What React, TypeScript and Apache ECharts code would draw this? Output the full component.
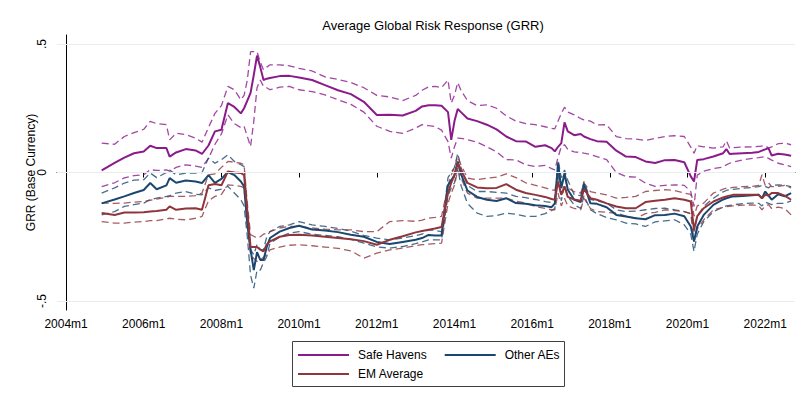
import React, { useEffect, useRef } from "react";
import * as echarts from "echarts";

// month index: 0 = 2004m1
const months = [
  11, 15, 18, 21, 24, 26, 28, 31, 32, 34,
  37, 40, 42, 44, 46, 48, 50, 52, 54, 55,
  56, 57, 58, 59, 60, 61, 62, 63, 66, 69,
  72, 76, 80, 84, 88, 92, 96, 100, 104, 108,
  110, 112, 114, 116, 118, 119, 120, 121, 122, 124,
  127, 130, 133, 136, 139, 142, 145, 148, 150, 151,
  152, 153, 154, 155, 157, 159, 160, 162, 164, 167,
  170, 173, 176, 179, 182, 185, 188, 191, 193, 194,
  195, 197, 200, 203, 204, 205, 206, 209, 212, 214,
  215, 216, 217, 218, 220, 222, 224,
];

const safeHavens = [
  0.008, 0.037, 0.058, 0.075, 0.082, 0.104, 0.095, 0.095, 0.062, 0.078,
  0.091, 0.086, 0.072, 0.105, 0.16, 0.166, 0.27, 0.255, 0.23, 0.25,
  0.28, 0.31, 0.38, 0.455, 0.41, 0.36, 0.365, 0.368, 0.375, 0.376,
  0.37, 0.36, 0.34, 0.32, 0.305, 0.275, 0.224, 0.225, 0.222, 0.24,
  0.257, 0.262, 0.262, 0.26, 0.235, 0.127, 0.2, 0.247, 0.235, 0.21,
  0.2, 0.186, 0.168, 0.14, 0.122, 0.121, 0.1, 0.106, 0.095, 0.082,
  0.1, 0.114, 0.195, 0.16, 0.145, 0.15, 0.14, 0.13, 0.122, 0.12,
  0.085, 0.062, 0.06, 0.043, 0.037, 0.048, 0.049, 0.04, -0.015, -0.035,
  0.049, 0.052, 0.062, 0.075, 0.091, 0.072, 0.073, 0.075, 0.077, 0.08,
  0.085, 0.09, 0.095, 0.066, 0.073, 0.07, 0.065,
];
const safeHavensHi = [
  0.114, 0.11, 0.14, 0.155, 0.168, 0.199, 0.19, 0.186, 0.127, 0.153,
  0.147, 0.134, 0.118, 0.175, 0.23, 0.26, 0.335, 0.322, 0.283, 0.3,
  0.36, 0.47, 0.47, 0.47, 0.43, 0.4, 0.41, 0.419, 0.419, 0.415,
  0.405, 0.395, 0.372, 0.362, 0.35, 0.33, 0.3, 0.294, 0.28, 0.3,
  0.32, 0.333, 0.335, 0.33, 0.36, 0.27, 0.3, 0.35, 0.32, 0.28,
  0.26, 0.263, 0.25, 0.22, 0.2, 0.19, 0.186, 0.178, 0.172, 0.17,
  0.2, 0.23, 0.254, 0.235, 0.224, 0.21, 0.205, 0.2, 0.185, 0.186,
  0.14, 0.132, 0.13, 0.125, 0.133, 0.14, 0.143, 0.14, 0.099, 0.075,
  0.104, 0.1, 0.095, 0.1, 0.123, 0.095, 0.097, 0.099, 0.1, 0.102,
  0.103, 0.104, 0.095, 0.1, 0.112, 0.114, 0.108,
];
const safeHavensLo = [
  -0.055, -0.04, -0.021, -0.012, -0.009, 0.011, 0.008, 0.01, 0.005, 0.02,
  0.03, 0.025, 0.02, 0.055, 0.11, 0.15, 0.224, 0.19, 0.175, 0.18,
  0.14, 0.101, 0.2, 0.33, 0.36, 0.335, 0.33, 0.322, 0.332, 0.335,
  0.322, 0.315, 0.302, 0.283, 0.265, 0.235, 0.18, 0.16, 0.152, 0.173,
  0.186, 0.182, 0.179, 0.165, 0.12, 0.056, 0.1, 0.134, 0.133, 0.128,
  0.118, 0.1, 0.08, 0.05, 0.049, 0.03, 0.023, 0.028, 0.015, 0.01,
  0.06, 0.1, 0.108, 0.09, 0.08, 0.078, 0.075, 0.07, 0.062, 0.05,
  0.0, -0.016, -0.018, -0.041, -0.054, -0.05, -0.048, -0.05, -0.074, -0.132,
  -0.01, 0.005, 0.015, 0.021, 0.03, 0.036, 0.04, 0.049, 0.055, 0.058,
  0.06, 0.062, 0.055, 0.048, 0.036, 0.03, 0.023,
];

const otherAEs = [
  -0.12, -0.105, -0.093, -0.08, -0.068, -0.041, -0.065, -0.05, -0.022, -0.04,
  -0.031, -0.035, -0.041, -0.01, -0.04, -0.025, 0.002, -0.01, -0.035, -0.054,
  -0.2, -0.3, -0.38, -0.31, -0.34, -0.34, -0.29, -0.255, -0.23, -0.216,
  -0.207, -0.222, -0.226, -0.232, -0.242, -0.25, -0.27, -0.278, -0.27, -0.262,
  -0.255, -0.243, -0.245, -0.245, -0.05, -0.03, -0.01, 0.043, -0.005, -0.07,
  -0.095, -0.106, -0.111, -0.1, -0.119, -0.122, -0.127, -0.13, -0.135, -0.12,
  0.035, -0.061, -0.002, -0.067, -0.106, -0.115, -0.045, -0.12, -0.122, -0.135,
  -0.165, -0.171, -0.178, -0.182, -0.166, -0.165, -0.16, -0.17, -0.21, -0.268,
  -0.21, -0.165, -0.126, -0.105, -0.1, -0.096, -0.093, -0.091, -0.089, -0.087,
  -0.1, -0.074, -0.09, -0.106, -0.085, -0.093, -0.08,
];
const otherAEsHi = [
  -0.08, -0.06, -0.041, -0.03, -0.028, -0.002, -0.02, 0.0, 0.01, -0.009,
  -0.002, -0.002, 0.0, 0.056, 0.036, 0.05, 0.069, 0.043, 0.03, 0.023,
  -0.15, -0.3, -0.32, -0.28, -0.3, -0.3, -0.25, -0.23, -0.21, -0.204,
  -0.191, -0.204, -0.21, -0.218, -0.228, -0.245, -0.255, -0.262, -0.255, -0.246,
  -0.24, -0.223, -0.225, -0.23, -0.02, 0.0, 0.02, 0.075, 0.02, -0.05,
  -0.074, -0.074, -0.077, -0.08, -0.093, -0.098, -0.105, -0.113, -0.117, -0.11,
  0.049, -0.02, 0.01, -0.03, -0.087, -0.09, -0.035, -0.105, -0.11, -0.119,
  -0.145, -0.152, -0.15, -0.145, -0.14, -0.139, -0.145, -0.152, -0.16, -0.23,
  -0.17, -0.132, -0.1, -0.075, -0.07, -0.067, -0.066, -0.061, -0.058, -0.055,
  -0.05, -0.054, -0.06, -0.05, -0.048, -0.05, -0.055,
];
const otherAEsLo = [
  -0.165, -0.152, -0.132, -0.125, -0.119, -0.105, -0.1, -0.093, -0.09, -0.08,
  -0.074, -0.085, -0.087, -0.06, -0.07, -0.065, -0.054, -0.08, -0.106, -0.13,
  -0.25, -0.4, -0.45, -0.38, -0.38, -0.35, -0.327, -0.275, -0.251, -0.236,
  -0.23, -0.24, -0.245, -0.25, -0.26, -0.275, -0.29, -0.294, -0.288, -0.277,
  -0.27, -0.262, -0.262, -0.262, -0.09, -0.06, -0.04, 0.017, -0.05, -0.12,
  -0.158, -0.171, -0.168, -0.158, -0.162, -0.171, -0.171, -0.16, -0.148, -0.14,
  0.0, -0.11, -0.05, -0.093, -0.126, -0.14, -0.09, -0.145, -0.16, -0.175,
  -0.184, -0.197, -0.2, -0.21, -0.192, -0.188, -0.184, -0.204, -0.24, -0.307,
  -0.24, -0.191, -0.152, -0.135, -0.13, -0.128, -0.126, -0.121, -0.119, -0.12,
  -0.13, -0.115, -0.12, -0.125, -0.12, -0.12, -0.11,
];

const emAverage = [
  -0.158, -0.165, -0.156, -0.156, -0.155, -0.152, -0.15, -0.145, -0.132, -0.145,
  -0.14, -0.139, -0.145, -0.05, -0.045, -0.05, 0.004, 0.0, -0.002, -0.01,
  -0.15, -0.29, -0.29, -0.29, -0.3, -0.307, -0.28, -0.268, -0.25, -0.243,
  -0.242, -0.245, -0.25, -0.255, -0.26, -0.267, -0.281, -0.262, -0.248, -0.233,
  -0.228, -0.223, -0.218, -0.212, -0.08, -0.04, -0.01, 0.036, 0.01, -0.04,
  -0.058, -0.061, -0.06, -0.045, -0.067, -0.08, -0.087, -0.095, -0.103, -0.106,
  -0.035, -0.087, -0.054, -0.095, -0.105, -0.11, -0.065, -0.1, -0.106, -0.12,
  -0.132, -0.139, -0.139, -0.115, -0.11, -0.106, -0.1, -0.106, -0.113, -0.223,
  -0.17, -0.139, -0.113, -0.097, -0.093, -0.09, -0.087, -0.087, -0.087, -0.087,
  -0.1, -0.087, -0.09, -0.08, -0.08, -0.09, -0.106,
];
const emAverageHi = [
  -0.119, -0.12, -0.119, -0.115, -0.113, -0.108, -0.104, -0.096, -0.093, -0.093,
  -0.093, -0.09, -0.08, -0.009, -0.005, 0.02, 0.043, 0.04, 0.036, 0.03,
  -0.12, -0.242, -0.248, -0.255, -0.25, -0.24, -0.236, -0.23, -0.216, -0.21,
  -0.21, -0.216, -0.22, -0.223, -0.223, -0.23, -0.23, -0.191, -0.187, -0.19,
  -0.185, -0.178, -0.175, -0.171, -0.05, -0.01, 0.02, 0.062, 0.03, -0.022,
  -0.028, -0.022, -0.018, -0.005, -0.02, -0.04, -0.05, -0.06, -0.067, -0.07,
  0.0, -0.05, -0.02, -0.06, -0.075, -0.08, -0.04, -0.074, -0.08, -0.087,
  -0.1, -0.097, -0.093, -0.074, -0.07, -0.067, -0.07, -0.08, -0.085, -0.17,
  -0.13, -0.119, -0.08, -0.065, -0.061, -0.06, -0.058, -0.055, -0.054, -0.05,
  -0.009, -0.05, -0.04, -0.055, -0.054, -0.05, -0.06,
];
const emAverageLo = [
  -0.191, -0.197, -0.197, -0.193, -0.191, -0.187, -0.187, -0.18, -0.178, -0.182,
  -0.184, -0.178, -0.171, -0.11, -0.093, -0.085, -0.048, -0.05, -0.054, -0.06,
  -0.2, -0.32, -0.335, -0.346, -0.34, -0.33, -0.32, -0.301, -0.29, -0.283,
  -0.281, -0.285, -0.29, -0.295, -0.305, -0.333, -0.314, -0.301, -0.294, -0.285,
  -0.281, -0.279, -0.277, -0.275, -0.12, -0.08, -0.05, 0.01, -0.02, -0.08,
  -0.1, -0.1, -0.1, -0.1, -0.112, -0.119, -0.132, -0.14, -0.145, -0.145,
  -0.08, -0.13, -0.1, -0.13, -0.14, -0.145, -0.1, -0.14, -0.152, -0.155,
  -0.158, -0.17, -0.178, -0.16, -0.155, -0.145, -0.148, -0.152, -0.16, -0.27,
  -0.22, -0.184, -0.145, -0.135, -0.133, -0.132, -0.13, -0.127, -0.126, -0.13,
  -0.145, -0.13, -0.125, -0.14, -0.135, -0.14, -0.165,
];

const xTickMonths = [0, 24, 48, 72, 96, 120, 144, 168, 192, 216];
const yTickValues = [-0.5, 0, 0.5];
const yTickLabels = ["-.5", "0", ".5"];

const seriesNames = ["Safe Havens", "Other AEs", "EM Average"];
const seriesColors = ["#8b1a8b", "#1a476f", "#90353b"];

const FONT = "Liberation Sans, Arial, Helvetica, sans-serif";

function pairs(vals: number[]) {
  return months.map((m, i) => [m, vals[i]]);
}

export default function App() {
  const ref = useRef<HTMLDivElement>(null);

  useEffect(() => {
    document.body.style.margin = "0";
    if (!ref.current) return;
    const chart = echarts.init(ref.current, undefined, { renderer: "svg" });

    const groups = [
      { name: seriesNames[0], color: seriesColors[0], mean: safeHavens, hi: safeHavensHi, lo: safeHavensLo },
      { name: seriesNames[1], color: seriesColors[1], mean: otherAEs, hi: otherAEsHi, lo: otherAEsLo },
      { name: seriesNames[2], color: seriesColors[2], mean: emAverage, hi: emAverageHi, lo: emAverageLo },
    ];

    const series: any[] = [];
    series.push({
      name: "grid",
      type: "line",
      data: [],
      silent: true,
      markLine: {
        silent: true,
        symbol: ["none", "none"],
        label: { show: false },
        lineStyle: { color: "#e6eef0", type: "solid", width: 1.2 },
        data: yTickValues.map((v) => ({ yAxis: v })),
      },
    });
    groups.forEach((g) => {
      [g.hi, g.lo].forEach((arr, k) => {
        series.push({
          name: g.name + (k === 0 ? " upper" : " lower"),
          type: "line",
          data: pairs(arr),
          showSymbol: false,
          silent: true,
          lineStyle: { color: g.color, width: 1.3, type: [7, 4], opacity: 0.8 },
        });
      });
    });
    groups.forEach((g) => {
      series.push({
        name: g.name,
        type: "line",
        data: pairs(g.mean),
        showSymbol: false,
        color: g.color,
        lineStyle: { color: g.color, width: 2 },
      });
    });

    const legendCommon = {
      orient: "horizontal",
      padding: 0,
      itemWidth: 51,
      itemHeight: 2,
      itemGap: 18,
      icon: "rect",
      selectedMode: false,
      textStyle: { fontFamily: FONT, fontSize: 12, color: "#000", padding: [0, 0, 0, 4], lineHeight: 14 },
    };

    chart.setOption({
      animation: false,
      backgroundColor: "#ffffff",
      title: {
        text: "Average Global Risk Response (GRR)",
        left: 428,
        top: 14,
        textAlign: "center",
        textStyle: { fontFamily: FONT, fontSize: 13, fontWeight: "normal", color: "#000" },
      },
      grid: { left: 57, right: 5, top: 35, bottom: 92, containLabel: false },
      xAxis: {
        type: "value",
        min: -2.8,
        max: 225.2,
        axisLine: { show: true, lineStyle: { color: "#000", width: 1 } },
        axisTick: { show: true, length: 5, customValues: xTickMonths, lineStyle: { color: "#000" } },
        axisLabel: {
          customValues: xTickMonths,
          margin: 8,
          fontFamily: FONT,
          fontSize: 12,
          color: "#000",
          formatter: (v: number) => `${2004 + Math.round(v / 12)}m1`,
        },
        splitLine: { show: false },
      },
      yAxis: {
        type: "value",
        min: -0.535,
        max: 0.535,
        name: "GRR (Base Currency)",
        nameLocation: "middle",
        nameGap: 20,
        nameMoveOverlap: false,
        nameTextStyle: { fontFamily: FONT, fontSize: 12, color: "#000" },
        axisLine: { show: true, lineStyle: { color: "#000", width: 1 } },
        axisTick: { show: true, length: 5, customValues: yTickValues, lineStyle: { color: "#000" } },
        axisLabel: {
          customValues: yTickValues,
          rotate: 90,
          margin: 9,
          fontFamily: FONT,
          fontSize: 12,
          color: "#000",
          formatter: (v: number) => yTickLabels[yTickValues.findIndex((t) => Math.abs(t - v) < 1e-9)] ?? "",
        },
        splitLine: { show: false },
      },
      legend: [
        { ...legendCommon, left: 298, top: 348, data: [seriesNames[0], seriesNames[1]] },
        { ...legendCommon, left: 298, top: 367, data: [seriesNames[2]] },
      ],
      graphic: [
        {
          type: "rect",
          shape: { x: 292.5, y: 341.5, width: 272, height: 45 },
          style: { fill: "none", stroke: "#404040", lineWidth: 1 },
          silent: true,
        },
      ],
      series,
    });

    return () => chart.dispose();
  }, []);

  return <div ref={ref} style={{ width: 800, height: 402 }} />;
}
